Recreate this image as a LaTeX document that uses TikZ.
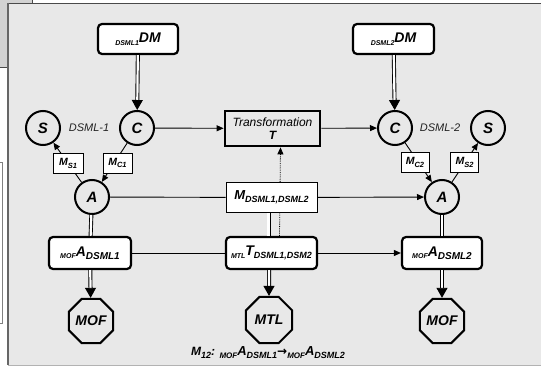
\documentclass[tikz,border=0pt]{standalone}
\usepackage{fontspec}
\setmainfont{Liberation Sans}
\newfontfamily\arrowfont{DejaVu Sans}
\usetikzlibrary{shapes.geometric,arrows.meta}

\definecolor{panel}{HTML}{E8E8E8}
\definecolor{tab}{HTML}{D2D2D2}
\definecolor{edge}{HTML}{4A4A4A}
\definecolor{labelgray}{HTML}{222222}

% sub- and pre-subscripts set as plain text
\newcommand{\presub}[1]{\raisebox{-2.5pt}{\fontsize{7}{7}\selectfont #1}}
\newcommand{\postsub}[1]{\raisebox{-3pt}{\fontsize{10}{10}\selectfont #1}}
\newcommand{\narrowsub}[1]{\raisebox{-3pt}{\fontsize{9}{9}\selectfont #1}}
\newcommand{\smallsub}[1]{\raisebox{-2.5pt}{\fontsize{7.5}{7.5}\selectfont #1}}
\newcommand{\capsub}[1]{\raisebox{-2.8pt}{\fontsize{9}{9}\selectfont #1}}
\newcommand{\cappre}[1]{\raisebox{-2.8pt}{\fontsize{8}{8}\selectfont #1}}

\begin{document}
\begin{tikzpicture}[x=1pt,y=-1pt,
  ring/.style={circle, draw, line width=2pt, minimum size=34pt, inner sep=0pt,
    font=\fontsize{15}{15}\selectfont\bfseries\itshape},
  rbox/.style={rectangle, rounded corners=4pt, draw, line width=2.2pt, fill=white,
    inner sep=0pt, font=\fontsize{14}{14}\selectfont\bfseries\itshape},
  lbox/.style={rectangle, draw, line width=0.8pt, fill=white, inner sep=0pt,
    minimum width=29pt, minimum height=20pt, font=\fontsize{10.5}{10.5}\selectfont\bfseries\itshape},
  octo/.style={regular polygon, regular polygon sides=8, draw, line width=2pt,
    minimum size=48pt, inner sep=0pt, font=\fontsize{14}{14}\selectfont\bfseries\itshape},
  dsml/.style={text=labelgray, font=\fontsize{11}{11}\selectfont\itshape},
  link/.style={line width=0.9pt},
  arr/.style={link, -{Triangle[length=7pt,width=6pt]}},
  dbl/.style={double, double distance=2.2pt, line width=0.9pt},
  dblarr/.style={dbl, -{Triangle[length=10pt,width=11pt]}},
  dots/.style={line width=0.8pt, densely dotted, -{Triangle[length=7pt,width=6pt]}},
]
\useasboundingbox (0,0) rectangle (541,366);

% window background
\fill[white] (0,0) rectangle (541,366);
\fill[tab] (0,0) rectangle (32,67);
\draw[edge, line width=0.8pt] (0,67) -- (8,67);
\draw[edge, line width=0.8pt] (32,0) -- (32,3);
\draw[gray, line width=0.8pt] (0,162) -- (2,162) -- (2,323) -- (0,323);
\fill[panel] (8,3) rectangle (541,365);
\draw[edge, line width=0.9pt] (8,3) -- (541,3);
\draw[gray!80!black, line width=1.6pt] (8,3) -- (8,365);
\draw[gray!60, line width=1pt] (8,365) -- (541,365);

% domain models
\node[rbox, minimum width=80pt, minimum height=30pt] (DM1) at (138,39) {\presub{DSML1}DM};
\node[rbox, minimum width=81pt, minimum height=30pt] (DM2) at (393.5,39) {\presub{DSML2}DM};

% concept / syntax / abstract-syntax rings
\node[ring] (S1) at (43,128) {S};
\node[ring] (C1) at (137,128) {C};
\node[ring] (C2) at (395,128) {C};
\node[ring] (S2) at (488,128) {S};
\node[ring] (A1) at (92,197) {A};
\node[ring] (A2) at (442,197) {A};

\node[dsml] (L1) at (89,128) {DSML-1};
\node[dsml] (L2) at (440,128) {DSML-2};

% transformation and its implementation
\node[draw, line width=2.8pt, minimum width=95pt, minimum height=35pt, inner sep=0pt,
  align=center, font=\fontsize{12}{13}\selectfont\itshape] (T) at (272.5,128.5)
  {Transformation\\\bfseries T};
\node[rbox, minimum width=91pt, minimum height=32pt] (MTLT) at (271.5,253)
  {\presub{MTL}T\narrowsub{DSML1,DSM2}};
\node[rbox, minimum width=82pt, minimum height=32pt] (MOFA1) at (90,253)
  {\presub{MOF}A\postsub{DSML1}};
\node[rbox, minimum width=80pt, minimum height=32pt] (MOFA2) at (442,253)
  {\presub{MOF}A\postsub{DSML2}};

% metamodels
\node[octo] (MOF1) at (91,321) {MOF};
\node[octo, minimum size=50pt] (MTL) at (269,320) {MTL};
\node[octo] (MOF2) at (442,321) {MOF};

% dotted realisation link, passing under the mapping box
\draw[dots] ([xshift=8pt]MTLT.north) -- ([xshift=8pt]T.south);

\node[lbox, minimum width=91pt, minimum height=30pt, font=\fontsize{13}{13}\selectfont\bfseries\itshape]
  (MD) at (271.5,197.5) {M\narrowsub{DSML1,DSML2}};

% connectors
\draw[dblarr] (DM1) -- (C1);
\draw[dblarr] (DM2) -- (C2);
\draw[arr] (C1) -- (T);
\draw[arr] (T) -- (C2);
\draw[link] (A1) -- (MD);
\draw[arr] (MD) -- (A2);
\draw[link] (MOFA1) -- (MTLT);
\draw[arr] (MTLT) -- (MOFA2);
\draw[dbl] (A1) -- (MOFA1);
\draw[dbl] (A2) -- (MOFA2);
\draw[dblarr] (MOFA1) -- (MOF1);
\draw[dblarr] (MOFA2) -- (MOF2);
\draw[dblarr] (MTLT.south -| MTL) -- (MTL);
\draw[dbl] ([xshift=-3pt]MD.south) -- ([xshift=-3pt]MTLT.north);

\draw[arr] (C1) -- (A1);
\draw[arr] (A1) -- (S1);
\draw[arr] (C2) -- (A2);
\draw[arr] (A2) -- (S2);

% mapping labels on the diagonal links
\node[lbox, minimum width=30pt] (MS1) at (68,163.5) {M\smallsub{S1}};
\node[lbox] (MC1) at (117.5,163) {M\smallsub{C1}};
\node[lbox, minimum width=28pt] (MC2) at (415,162.5) {M\smallsub{C2}};
\node[lbox, minimum width=28pt] (MS2) at (464.5,162.5) {M\smallsub{S2}};

% caption of the model transformation
\node[anchor=base, inner sep=0pt, font=\fontsize{12}{12}\selectfont\bfseries\itshape] (M12) at (268,355.5)
  {M\capsub{12}: \cappre{MOF}{\fontsize{13}{13}\selectfont A}\capsub{DSML1}{\arrowfont\bfseries\fontsize{12}{12}\selectfont →}\cappre{MOF}{\fontsize{13}{13}\selectfont A}\capsub{DSML2}};
\end{tikzpicture}
\end{document}
